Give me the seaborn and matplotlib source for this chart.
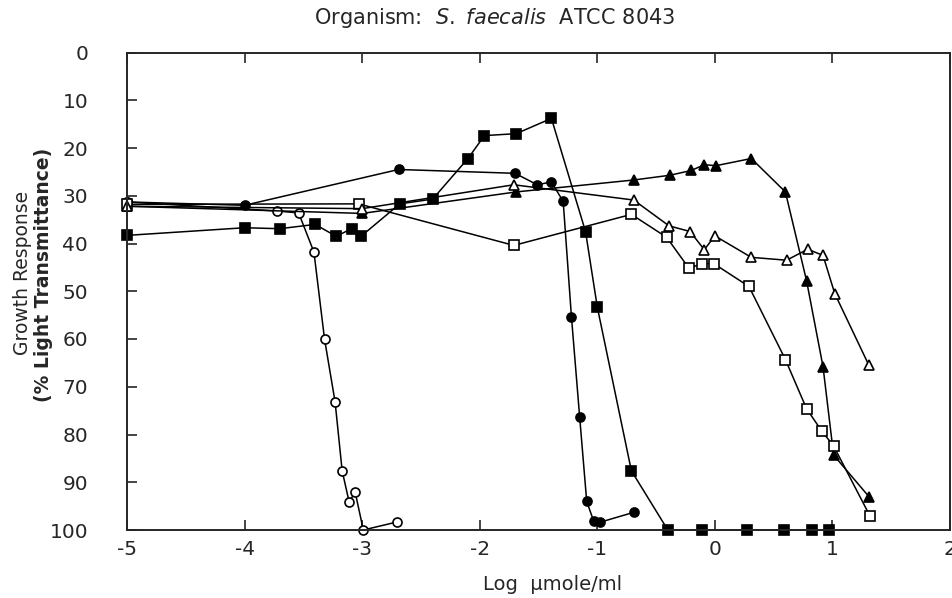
import numpy as np
import pandas as pd
import matplotlib
matplotlib.use("Agg")
import matplotlib.pyplot as plt
import seaborn as sns

sns.set_style("ticks")
plt.rcParams["font.family"] = ["DejaVu Sans"]
plt.rcParams["mathtext.fontset"] = "dejavusans"

# growth response (% light transmittance) vs log concentration
open_circle_x = [-5.0, -3.72, -3.54, -3.41, -3.32, -3.23, -3.17, -3.11, -3.06, -2.99, -2.70]
open_circle_y = [31.3, 33.2, 33.6, 41.8, 60.0, 73.2, 87.6, 94.2, 92.0, 100.0, 98.3]

filled_circle_x = [-5.0, -4.0, -2.69, -1.70, -1.51, -1.39, -1.29, -1.22, -1.15, -1.09, -1.03, -0.98, -0.69]
filled_circle_y = [31.3, 32.0, 24.5, 25.3, 27.7, 27.1, 31.2, 55.3, 76.3, 94.0, 98.2, 98.4, 96.3]

filled_square_x = [-5.0, -4.0, -3.70, -3.40, -3.22, -3.09, -3.01, -2.68, -2.40, -2.10, -1.96,
                   -1.69, -1.39, -1.10, -1.00, -0.71, -0.40, -0.11, 0.27, 0.59, 0.83, 0.97]
filled_square_y = [38.3, 36.7, 36.9, 36.0, 38.5, 36.9, 38.5, 31.7, 30.7, 22.2, 17.4,
                   17.0, 13.8, 37.5, 53.3, 87.6, 100.0, 100.0, 100.0, 100.0, 100.0, 100.0]

filled_tri_x = [-5.0, -3.0, -1.69, -0.69, -0.38, -0.20, -0.09, 0.01, 0.31, 0.60, 0.78, 0.92, 1.01, 1.31]
filled_tri_y = [32.2, 33.7, 29.2, 26.7, 25.7, 24.7, 23.5, 23.7, 22.2, 29.2, 47.8, 65.8, 84.3, 93.0]

open_square_x = [-5.0, -3.03, -1.71, -0.71, -0.41, -0.22, -0.11, -0.01, 0.29, 0.60, 0.78, 0.91, 1.01, 1.32]
open_square_y = [31.8, 31.7, 40.4, 33.9, 38.7, 45.2, 44.2, 44.2, 49.0, 64.3, 74.6, 79.3, 82.4, 97.1]

open_tri_x = [-5.0, -3.0, -1.71, -0.69, -0.39, -0.21, -0.09, 0.00, 0.31, 0.61, 0.79, 0.92, 1.02, 1.31]
open_tri_y = [32.2, 32.7, 27.7, 30.9, 36.3, 37.5, 41.3, 38.4, 42.9, 43.5, 41.2, 42.5, 50.5, 65.5]

x_ticks = [-5, -4, -3, -2, -1, 0, 1, 2]
x_tick_labels = ["-5", "-4", "-3", "-2", "-1", "0", "1", "2"]
y_ticks = [0, 10, 20, 30, 40, 50, 60, 70, 80, 90, 100]

series = [
    (open_circle_x, open_circle_y, "o", "white"),
    (filled_circle_x, filled_circle_y, "o", "black"),
    (filled_square_x, filled_square_y, "s", "black"),
    (filled_tri_x, filled_tri_y, "^", "black"),
    (open_square_x, open_square_y, "s", "white"),
    (open_tri_x, open_tri_y, "^", "white"),
]

fig = plt.figure(figsize=(9.53, 5.98), dpi=100)
ax = fig.add_axes([127 / 953, 1 - 530 / 598, 823 / 953, 477.5 / 598])

for xs, ys, mk, face in series:
    sns.lineplot(x=xs, y=ys, ax=ax, sort=False, estimator=None, color="black",
                 linewidth=1.1, marker=mk, markersize=6.5, markerfacecolor=face,
                 markeredgecolor="black", markeredgewidth=1.2)

for line in ax.get_lines():
    line.set_clip_on(False)

ax.set_xlim(-5, 2)
ax.set_ylim(100, 0)
ax.set_xticks(x_ticks)
ax.set_xticklabels(x_tick_labels)
ax.set_yticks(y_ticks)
ax.set_xlabel("")
ax.set_ylabel("")
for side in ["top", "right", "left", "bottom"]:
    ax.spines[side].set_visible(True)
    ax.spines[side].set_linewidth(1.4)
ax.tick_params(axis="x", direction="in", length=7, width=1.2, top=True, labelsize=14.5, pad=7)
ax.tick_params(axis="y", direction="in", length=7, width=1.2, labelsize=14.5, pad=28)

fig.text(495 / 953, 1 - 18 / 598, r"Organism:  $\mathit{S.\ faecalis}$  ATCC 8043",
         ha="center", va="center", fontsize=15)
fig.text(553 / 953, 1 - 585 / 598, "Log  \u03bcmole/ml", ha="center", va="center", fontsize=14)
fig.text(23 / 953, 1 - 273 / 598, "Growth Response", rotation=90,
         ha="center", va="center", fontsize=13.5)
fig.text(44 / 953, 1 - 275 / 598, "(% Light Transmittance)", rotation=90,
         ha="center", va="center", fontsize=13.5, fontweight="bold")

fig.savefig("out.png", dpi=100)
